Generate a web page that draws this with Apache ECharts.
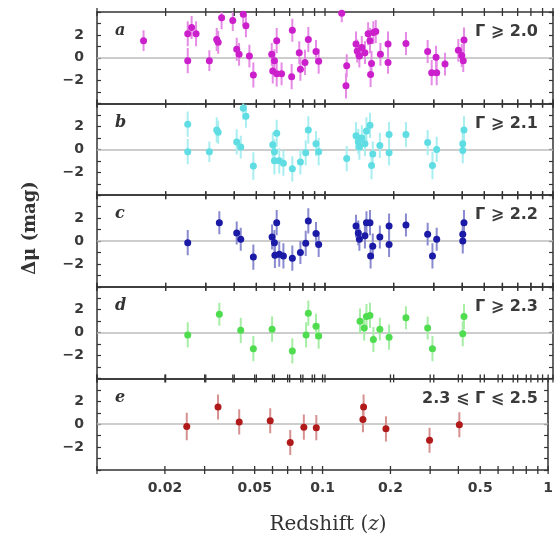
<!DOCTYPE html>
<html>
<head>
<meta charset="utf-8">
<script src="https://cdn.jsdelivr.net/npm/echarts@6/dist/echarts.min.js"></script>
<style>
  html, body { margin: 0; padding: 0; background: #fff; }
  #chart { width: 556px; height: 539px; }
</style>
</head>
<body>
<div id="chart"></div>
<script>
// Redshift ticks (log axis) and the subset of them that carry labels
const xTicks = [0.01, 0.02, 0.03, 0.04, 0.05, 0.06, 0.07, 0.08, 0.09,
                0.1, 0.2, 0.3, 0.4, 0.5, 0.6, 0.7, 0.8, 0.9, 1];
const xLabels = [0.02, 0.05, 0.1, 0.2, 0.5, 1];
const yLabels = [-2, 0, 2];

// Each point: [redshift z, Δμ (mag), 1σ error (mag)]
const gammaGe20 = [
  [0.0160, 1.5, 0.9], [0.0250, 2.1, 1.1], [0.0260, 2.65, 1.0], [0.0272, 2.1, 1.1],
  [0.0250, -0.25, 1.1], [0.0311, -0.25, 0.9], [0.0335, 1.6, 1.0], [0.0340, 1.35, 1.0],
  [0.0352, 3.5, 1.0], [0.0394, 3.25, 0.9], [0.0438, 3.8, 1.0], [0.0450, 2.8, 1.0],
  [0.0410, 0.75, 1.0], [0.0420, 0.3, 1.0], [0.0466, 0.15, 1.0], [0.0485, -1.5, 1.1],
  [0.0584, 0.3, 1.0], [0.0614, 1.5, 1.1], [0.0600, -0.25, 1.0], [0.0590, -1.15, 1.1],
  [0.0614, -1.4, 1.1], [0.0645, -1.4, 1.0], [0.0714, -1.65, 1.1], [0.0719, 2.4, 1.0],
  [0.0771, 0.45, 1.0], [0.0780, -1.0, 1.0], [0.0817, -0.4, 1.1], [0.0845, 1.6, 1.1],
  [0.0913, 0.55, 1.0], [0.0938, -0.3, 1.1], [0.1184, 3.9, 0.8], [0.1245, -0.7, 1.0],
  [0.1236, -2.45, 1.1], [0.1368, 1.2, 1.1], [0.1385, 0.6, 1.0], [0.1415, 0.15, 1.0],
  [0.1450, 0.9, 1.0], [0.1497, 0.45, 1.0], [0.1546, 2.1, 1.0], [0.1575, 1.5, 1.1],
  [0.1630, 2.2, 1.0], [0.1670, 2.3, 1.0], [0.1600, -0.5, 1.1], [0.1585, -1.45, 1.1],
  [0.1750, 0.3, 1.0], [0.1890, 1.2, 1.1], [0.1890, -0.4, 1.0], [0.2265, 1.25, 1.0],
  [0.2820, 0.55, 1.0], [0.3070, 0.05, 1.0], [0.2937, -1.3, 1.1], [0.3090, -1.3, 1.1],
  [0.3360, -0.55, 1.0], [0.3845, 0.65, 1.0], [0.3980, 0.2, 1.0], [0.4040, -0.25, 1.0],
  [0.4070, 1.55, 1.1]
];

const gammaGe21 = [
  [0.0250, 2.2, 1.1], [0.0250, -0.2, 1.1], [0.0311, -0.2, 0.9], [0.0335, 1.7, 1.1],
  [0.0340, 1.5, 1.0], [0.0438, 3.6, 1.0], [0.0450, 2.9, 1.0], [0.0410, 0.65, 1.1],
  [0.0427, 0.2, 1.0], [0.0485, -1.45, 1.2], [0.0590, 0.4, 1.1], [0.0614, 1.4, 1.2],
  [0.0600, -0.2, 1.1], [0.0600, -1.0, 1.2], [0.0630, -1.0, 1.1], [0.0657, -1.2, 1.1],
  [0.0719, -1.7, 1.1], [0.0780, -1.1, 1.1], [0.0823, -0.3, 1.1], [0.0845, 1.7, 1.2],
  [0.0913, 0.5, 1.1], [0.0938, -0.2, 1.2], [0.1245, -0.8, 1.1], [0.1368, 1.2, 1.2],
  [0.1400, 0.7, 1.1], [0.1415, 0.2, 1.1], [0.1450, 1.0, 1.1], [0.1497, 0.5, 1.1],
  [0.1520, 1.6, 1.2], [0.1575, 2.1, 1.1], [0.1600, -1.4, 1.2], [0.1620, -0.4, 1.1],
  [0.1740, 0.35, 1.1], [0.1910, 1.3, 1.1], [0.1910, -0.3, 1.1], [0.2265, 1.3, 1.1],
  [0.2820, 0.6, 1.1], [0.2960, -1.4, 1.2], [0.3090, 0.0, 1.1], [0.4020, 0.5, 1.1],
  [0.4070, 1.7, 1.2], [0.4020, -0.1, 1.1]
];

const gammaGe22 = [
  [0.0250, -0.15, 1.1], [0.0344, 1.6, 1.0], [0.0410, 0.7, 1.0], [0.0427, 0.15, 1.0],
  [0.0485, -1.4, 1.1], [0.0586, 0.35, 1.1], [0.0614, 1.6, 1.1], [0.0600, -0.15, 1.1],
  [0.0603, -1.25, 1.1], [0.0630, -1.15, 1.1], [0.0657, -1.3, 1.1], [0.0719, -1.5, 1.1],
  [0.0780, -1.0, 1.0], [0.0823, -0.2, 1.1], [0.0845, 1.75, 1.1], [0.0913, 0.65, 1.0],
  [0.0938, -0.3, 1.1], [0.1368, 1.3, 1.0], [0.1400, 0.7, 1.1], [0.1415, 0.15, 1.0],
  [0.1497, 0.45, 1.1], [0.1520, 1.6, 1.0], [0.1575, 1.6, 1.1], [0.1620, -0.45, 1.1],
  [0.1585, -1.3, 1.1], [0.1740, 0.35, 1.0], [0.1910, 1.3, 1.1], [0.1910, -0.3, 1.1],
  [0.2265, 1.4, 1.0], [0.2820, 0.6, 1.0], [0.3090, 0.15, 1.0], [0.2960, -1.3, 1.1],
  [0.4020, 0.6, 1.1], [0.4070, 1.6, 1.1], [0.4020, 0.0, 1.1]
];

const gammaGe23 = [
  [0.0250, -0.2, 1.1], [0.0344, 1.6, 1.0], [0.0427, 0.2, 1.1], [0.0485, -1.4, 1.1],
  [0.0586, 0.3, 1.1], [0.0719, -1.6, 1.1], [0.0826, -0.2, 1.1], [0.0845, 1.7, 1.1],
  [0.0913, 0.55, 1.1], [0.0938, -0.3, 1.1], [0.1424, 1.0, 1.1], [0.1486, 0.4, 1.1],
  [0.1520, 1.4, 1.1], [0.1575, 1.5, 1.1], [0.1630, -0.6, 1.1], [0.1740, 0.3, 1.0],
  [0.1910, -0.4, 1.1], [0.2265, 1.3, 1.0], [0.2820, 0.4, 1.0], [0.2960, -1.4, 1.1],
  [0.4020, -0.1, 1.1], [0.4070, 1.4, 1.1]
];

const gamma23to25 = [
  [0.0250, -0.2, 1.2], [0.0344, 1.5, 1.1], [0.0427, 0.2, 1.1], [0.0586, 0.3, 1.1],
  [0.0719, -1.6, 1.1], [0.0826, -0.26, 1.1], [0.0938, -0.3, 1.1], [0.1520, 1.5, 1.1],
  [0.1510, 0.4, 1.1], [0.1910, -0.4, 1.1], [0.2980, -1.4, 1.1], [0.4040, -0.05, 1.1]
];

const panels = [
  { tag: 'a', cut: 'Γ ⩾ 2.0', data: gammaGe20, color: '#cc1fcc', bar: '#e58ae5' },
  { tag: 'b', cut: 'Γ ⩾ 2.1', data: gammaGe21, color: '#5fdde3', bar: '#a8eef0' },
  { tag: 'c', cut: 'Γ ⩾ 2.2', data: gammaGe22, color: '#1a1aa6', bar: '#8a8ad0' },
  { tag: 'd', cut: 'Γ ⩾ 2.3', data: gammaGe23, color: '#4fdc4f', bar: '#a6eea6' },
  { tag: 'e', cut: '2.3 ⩽ Γ ⩽ 2.5', data: gamma23to25, color: '#b01a1a', bar: '#d79090' }
];

const chart = echarts.init(document.getElementById('chart'));

const plotLeft = 97, plotRight = 3, plotTop = 12, panelH = 91.6;
const frame = '#333';
const tickFont = { fontFamily: 'DejaVu Sans', fontSize: 14, fontWeight: 'bold', color: '#3a3a3a' };

const grids = [], xAxes = [], yAxes = [], series = [], graphics = [];

function xLabelText(v) {
  const m = xLabels.find(t => Math.abs(t - v) / t < 1e-6);
  return m === undefined ? '' : String(m);
}
function yLabelText(v) {
  if (yLabels.indexOf(v) < 0) return '';
  return v < 0 ? '−' + Math.abs(v) : String(v);
}

panels.forEach((p, i) => {
  const top = plotTop + i * panelH;
  grids.push({ left: plotLeft, right: plotRight, top: top, height: panelH, containLabel: false });

  ['bottom', 'top'].forEach(pos => {
    xAxes.push({
      type: 'log', logBase: 10, min: 0.01, max: 1, gridIndex: i, position: pos,
      axisLine: { show: true, onZero: false, lineStyle: { color: frame, width: 1.5 } },
      axisTick: { show: false },
      minorTick: { show: false },
      axisLabel: {
        show: pos === 'bottom' && i === panels.length - 1,
        customValues: xLabels, margin: 11, formatter: xLabelText, ...tickFont
      },
      splitLine: { show: false }
    });
  });

  ['left', 'right'].forEach(pos => {
    yAxes.push({
      type: 'value', min: -4, max: 4, interval: 1, gridIndex: i, position: pos,
      axisLine: { show: true, onZero: false, lineStyle: { color: frame, width: 1.5 } },
      axisTick: { show: true, inside: true, length: 4, lineStyle: { color: frame, width: 1.2 } },
      axisLabel: { show: pos === 'left', margin: 13, formatter: yLabelText, ...tickFont },
      splitLine: { show: false }
    });
  });

  const xIdx = i * 2, yIdx = i * 2;

  // redshift ticks crossing the top and bottom edges of the panel
  series.push({
    type: 'custom', xAxisIndex: xIdx, yAxisIndex: yIdx, clip: false, silent: true,
    data: xTicks.map(v => [v, 0]), encode: { x: 0, y: 1 },
    renderItem: (params, api) => {
      const x = api.coord([api.value(0), 0])[0];
      const cs = params.coordSys;
      return {
        type: 'group',
        children: [cs.y, cs.y + cs.height].map(yy => ({
          type: 'line',
          shape: { x1: x, y1: yy - 4, x2: x, y2: yy + 4 },
          style: { stroke: frame, lineWidth: 1.3 }
        }))
      };
    },
    z: 5
  });

  // vertical 1σ error bars
  series.push({
    type: 'custom', xAxisIndex: xIdx, yAxisIndex: yIdx, clip: true, silent: true,
    data: p.data, encode: { x: 0, y: 1 },
    renderItem: (params, api) => {
      const z = api.value(0), y = api.value(1), e = api.value(2);
      const lo = api.coord([z, y - e]), hi = api.coord([z, y + e]);
      return {
        type: 'line',
        shape: { x1: lo[0], y1: lo[1], x2: hi[0], y2: hi[1] },
        style: { stroke: p.bar, lineWidth: 2 }
      };
    },
    z: 2
  });

  // measured points, with the Δμ = 0 reference line
  series.push({
    type: 'scatter', xAxisIndex: xIdx, yAxisIndex: yIdx, clip: true, silent: true,
    data: p.data.map(d => [d[0], d[1]]),
    symbol: 'circle', symbolSize: 7,
    itemStyle: { color: p.color, opacity: 1 },
    markLine: {
      silent: true, symbol: 'none', label: { show: false },
      lineStyle: { color: '#bdbdbd', width: 1.5, type: 'solid' },
      data: [{ yAxis: 0 }], z: 1
    },
    z: 3
  });

  graphics.push({
    type: 'text', left: 115, top: top + 11,
    style: { text: p.tag, font: 'italic bold 16px "DejaVu Serif"', fill: '#333' }
  });
  graphics.push({
    type: 'text', right: 18, top: top + 12,
    style: { text: p.cut, font: 'bold 16px "DejaVu Sans"', fill: '#3a3a3a', textAlign: 'right' }
  });
});

graphics.push({
  type: 'text', x: 328, y: 525,
  style: {
    text: '{r|Redshift (}{i|z}{r|)}',
    align: 'center', verticalAlign: 'middle',
    rich: {
      r: { font: '20px "DejaVu Serif"', fill: '#333', color: '#333' },
      i: { font: 'italic 20px "DejaVu Serif"', fill: '#333', color: '#333' }
    }
  }
});
graphics.push({
  type: 'text', x: 30, y: 228, rotation: Math.PI / 2,
  style: { text: 'Δμ (mag)', font: 'bold 18px "DejaVu Serif"', fill: '#333',
           align: 'center', verticalAlign: 'middle' }
});

chart.setOption({
  animation: false,
  backgroundColor: '#fff',
  grid: grids,
  xAxis: xAxes,
  yAxis: yAxes,
  series: series,
  graphic: graphics
});
</script>
</body>
</html>
